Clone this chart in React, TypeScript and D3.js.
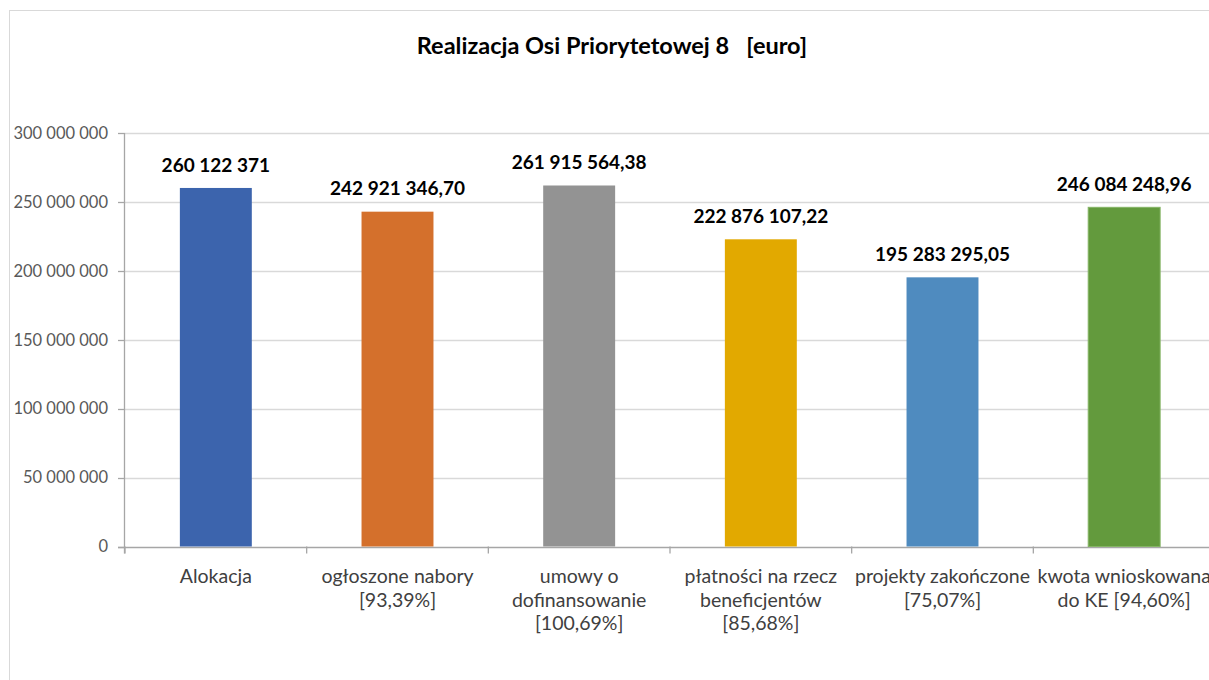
import React, { useEffect, useRef } from "react";
import * as d3 from "d3";

const categories = [
  ["Alokacja"],
  ["ogłoszone nabory", "[93,39%]"],
  ["umowy o", "dofinansowanie", "[100,69%]"],
  ["płatności na rzecz", "beneficjentów", "[85,68%]"],
  ["projekty zakończone", "[75,07%]"],
  ["kwota wnioskowana", "do KE [94,60%]"],
];
const values = [260122371, 242921346.7, 261915564.38, 222876107.22, 195283295.05, 246084248.96];
const valueLabels = [
  "260 122 371",
  "242 921 346,70",
  "261 915 564,38",
  "222 876 107,22",
  "195 283 295,05",
  "246 084 248,96",
];
const barColors = ["#3c64ad", "#d4702c", "#939393", "#e2a900", "#4f8bbf", "#639a3d"];
const yTicks = [0, 50000000, 100000000, 150000000, 200000000, 250000000, 300000000];

const W = 1209;
const H = 680;
const font = "Lato, 'Open Sans', sans-serif";

const fmt = (v: number) => d3.format(",")(v).replace(/,/g, " ");

export default function App() {
  const ref = useRef<SVGSVGElement>(null);

  useEffect(() => {
    const svg = d3.select(ref.current);
    svg.selectAll("*").remove();

    const x = d3
      .scaleBand<number>()
      .domain(d3.range(categories.length))
      .range([125, 1215])
      .padding(0);
    const y = d3.scaleLinear().domain([0, 300000000]).range([546.5, 133]);
    const barW = x.bandwidth() * 0.396;

    // chart frame
    svg
      .append("rect")
      .attr("x", 9.5)
      .attr("y", 10.5)
      .attr("width", 1230)
      .attr("height", 720)
      .attr("fill", "#fff")
      .attr("stroke", "#d9d9d9");

    // title
    svg
      .append("text")
      .attr("x", 612)
      .attr("y", 54)
      .attr("text-anchor", "middle")
      .attr("font-family", font)
      .attr("font-size", 23.5)
      .attr("font-weight", 700)
      .attr("fill", "#000")
      .attr("xml:space", "preserve")
      .text("Realizacja Osi Priorytetowej 8   [euro]");

    // gridlines
    svg
      .append("g")
      .selectAll("line")
      .data(yTicks.slice(1))
      .join("line")
      .attr("x1", 125)
      .attr("x2", 1215)
      .attr("y1", (d) => Math.round(y(d)) + 0.5)
      .attr("y2", (d) => Math.round(y(d)) + 0.5)
      .attr("stroke", "#d9d9d9")
      .attr("stroke-width", 1.3);

    // y axis
    const yAxis = svg.append("g");
    yAxis
      .append("line")
      .attr("x1", 124.5)
      .attr("x2", 124.5)
      .attr("y1", y(300000000))
      .attr("y2", y(0) + 7)
      .attr("stroke", "#a6a6a6")
      .attr("stroke-width", 1.3);
    yAxis
      .selectAll("line.tick")
      .data(yTicks)
      .join("line")
      .attr("class", "tick")
      .attr("x1", 118)
      .attr("x2", 125)
      .attr("y1", (d) => Math.round(y(d)) + 0.5)
      .attr("y2", (d) => Math.round(y(d)) + 0.5)
      .attr("stroke", "#a6a6a6")
      .attr("stroke-width", 1.3);
    yAxis
      .selectAll("text")
      .data(yTicks)
      .join("text")
      .attr("x", 108)
      .attr("y", (d) => y(d))
      .attr("dy", "0.35em")
      .attr("text-anchor", "end")
      .attr("font-family", font)
      .attr("font-size", 16.5)
      .attr("fill", "#595959")
      .text((d) => fmt(d));

    // x axis
    const xAxis = svg.append("g");
    xAxis
      .append("line")
      .attr("x1", 118)
      .attr("x2", 1215)
      .attr("y1", Math.round(y(0)) + 0.5)
      .attr("y2", Math.round(y(0)) + 0.5)
      .attr("stroke", "#a6a6a6")
      .attr("stroke-width", 1.3);
    xAxis
      .selectAll("line.tick")
      .data(d3.range(categories.length + 1))
      .join("line")
      .attr("class", "tick")
      .attr("x1", (i) => 125 + i * x.step())
      .attr("x2", (i) => 125 + i * x.step())
      .attr("y1", y(0))
      .attr("y2", y(0) + 7)
      .attr("stroke", "#a6a6a6")
      .attr("stroke-width", 1.3);

    const catText = xAxis
      .selectAll("text")
      .data(categories)
      .join("text")
      .attr("text-anchor", "middle")
      .attr("font-family", font)
      .attr("font-size", 19.5)
      .attr("fill", "#404040");
    catText
      .selectAll("tspan")
      .data((d, i) => d.map((line) => ({ line, i })))
      .join("tspan")
      .attr("x", (d) => (x(d.i) as number) + x.bandwidth() / 2)
      .attr("y", (d, j) => 583 + j * 23.5)
      .text((d) => d.line);

    // bars
    svg
      .append("g")
      .selectAll("rect")
      .data(values)
      .join("rect")
      .attr("x", (d, i) => (x(i) as number) + (x.bandwidth() - barW) / 2)
      .attr("y", (d) => y(d))
      .attr("width", barW)
      .attr("height", (d) => y(0) - y(d))
      .attr("fill", (d, i) => barColors[i])
      .attr("stroke", (d, i) => (i === 5 ? "#85b565" : "none"))
      .attr("stroke-width", 1);

    // data labels with white boxes
    const labels = svg.append("g");
    values.forEach((v, i) => {
      const cx = (x(i) as number) + x.bandwidth() / 2;
      const cy = y(v) - 23;
      const g = labels.append("g");
      const bg = g.append("rect").attr("fill", "#fff");
      const t = g
        .append("text")
        .attr("x", cx)
        .attr("y", cy)
        .attr("dy", "0.35em")
        .attr("text-anchor", "middle")
        .attr("font-family", font)
        .attr("font-size", 19)
        .attr("font-weight", 700)
        .attr("fill", "#000")
        .text(valueLabels[i]);
      const bb = (t.node() as SVGTextElement).getBBox();
      bg.attr("x", bb.x - 5)
        .attr("y", cy - 12)
        .attr("width", bb.width + 10)
        .attr("height", 24);
    });
  }, []);

  return (
    <svg
      ref={ref}
      width={W}
      height={H}
      style={{ position: "absolute", left: 0, top: 0, background: "#fff" }}
    />
  );
}
